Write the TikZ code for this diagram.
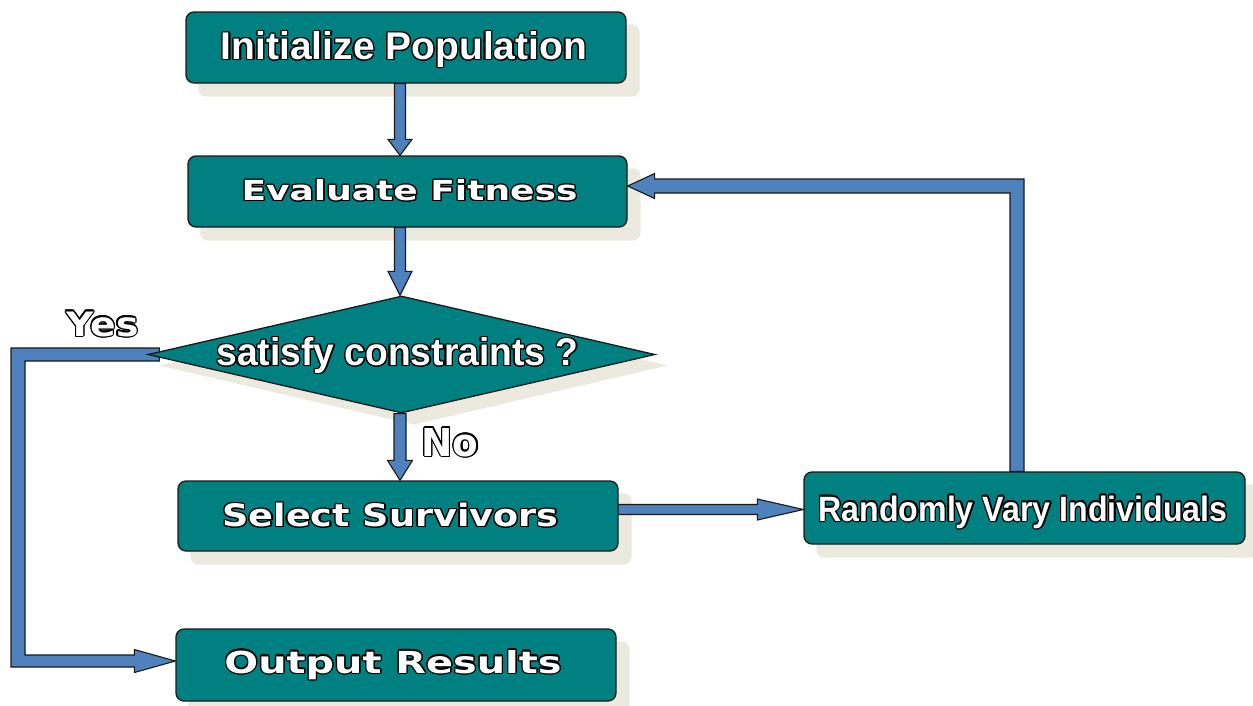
\documentclass[tikz,border=0pt]{standalone}
\usepackage{fontspec}
\setmainfont{Liberation Sans}
\newfontfamily\widefont{DejaVu Sans}
\usepackage{graphicx}
\usetikzlibrary{calc,shapes.geometric}
\definecolor{boxc}{RGB}{0,128,128}
\definecolor{arrc}{RGB}{79,129,189}
\definecolor{shadc}{RGB}{236,233,222}
\definecolor{edgec}{RGB}{25,25,25}
\newlength\olw
\setlength\olw{1.3pt}
\newcommand\olcp[2]{\rlap{\kern#1\olw\raise#2\olw\copy0}}
\newcommand\ol[1]{{\setbox0=\hbox{#1}\leavevmode{\color{black}%
 \olcp{1}{0}\olcp{-1}{0}\olcp{0}{1}\olcp{0}{-1}%
 \olcp{.707}{.707}\olcp{-.707}{.707}\olcp{.707}{-.707}\olcp{-.707}{-.707}%
 \olcp{.924}{.383}\olcp{-.924}{.383}\olcp{.924}{-.383}\olcp{-.924}{-.383}%
 \olcp{.383}{.924}\olcp{-.383}{.924}\olcp{.383}{-.924}\olcp{-.383}{-.924}}%
 \copy0}}
\newcommand\fitt[3]{\ol{\resizebox{#1pt}{#2pt}{\bfseries #3}}}
\newcommand\fitw[3]{\ol{\resizebox{#1pt}{#2pt}{\widefont\bfseries #3}}}
\newcommand\blkdown[5]{%
 \filldraw[conn] ($(#1)+(-#3,0)$) -- ($(#2)+(-#3,#5)$) -- ($(#2)+(-#4,#5)$) -- (#2)
  -- ($(#2)+(#4,#5)$) -- ($(#2)+(#3,#5)$) -- ($(#1)+(#3,0)$) -- cycle;}
\pgfdeclarelayer{background}
\pgfdeclarelayer{connlayer}
\pgfsetlayers{background,connlayer,main}
\begin{document}
\begin{tikzpicture}[x=1pt,y=1pt,
  box/.style={draw=edgec, line width=1.3pt, fill=boxc, rounded corners=8pt,
    inner sep=0pt, minimum width=440pt, minimum height=71pt},
  dia/.style={draw=edgec, line width=1.3pt, fill=boxc, diamond, inner sep=0pt,
    minimum width=507pt, minimum height=117pt},
  lbl/.style={anchor=base, inner sep=0pt, text=white},
  conn/.style={fill=arrc, draw=edgec, line width=1.1pt, line join=miter},
  shad/.style={fill=shadc, rounded corners=8pt}]
\useasboundingbox (0,0) rectangle (1253,-705);

% nodes
\node[box] (init) at (406,-47.5) {};
\node[box, minimum width=439pt] (eval) at (407.5,-191.5) {};
\node[dia] (sat) at (401.5,-354.5) {};
\node[box, minimum height=70pt] (sel) at (398,-516) {};
\node[box, minimum height=72pt] (out) at (396,-665) {};
\node[box, minimum width=441pt, minimum height=72pt] (rand) at (1024.5,-508) {};

% labels
\node[lbl] (initT) at (404,-59.5) {\fitt{366}{28}{Initialize Population}};
\node[lbl] (evalT) at (409.5,-200.5) {\fitw{336}{21}{Evaluate Fitness}};
\node[lbl] (satT) at (397.5,-365.5) {\fitt{362}{28}{satisfy constraints ?}};
\node[lbl] (selT) at (390.5,-526.5) {\fitw{336}{23.5}{Select Survivors}};
\node[lbl] (outT) at (393,-673) {\fitw{337}{23}{Output Results}};
\node[lbl] (randT) at (1023,-521) {\fitt{409}{25.5}{Randomly Vary Individuals}};
\node[lbl] (yesT) at (102.5,-336) {\fitw{72}{24.5}{Yes}};
\node[lbl] (noT) at (450,-456) {\fitw{57}{28}{No}};

% shadows
\begin{pgfonlayer}{background}
\foreach \n in {init,eval,sel,out,rand}{
  \fill[shad] ($(\n.south west)+(13,-13)$) rectangle ($(\n.north east)+(13,-13)$);
}
\fill[shadc] ($(sat.west)+(12,-11)$) -- ($(sat.north)+(12,-11)$) -- ($(sat.east)+(12,-11)$) -- ($(sat.south)+(12,-11)$) -- cycle;
\end{pgfonlayer}

% connectors
\begin{pgfonlayer}{connlayer}
\coordinate (ax) at (400,0);
\coordinate (a1s) at (init.south -| ax);
\coordinate (a1e) at (eval.north -| ax);
\coordinate (a2s) at (eval.south -| ax);
\coordinate (a2e) at (sat.north -| ax);
\coordinate (a3s) at (sat.south -| ax);
\coordinate (a3e) at (sel.north -| ax);
\blkdown{a1s}{a1e}{5.5}{12}{16}
\blkdown{a2s}{a2e}{5.5}{12}{24}
\blkdown{a3s}{a3e}{6}{12.5}{20}
% select -> randomly
\filldraw[conn] let \p1=(sel.east), \p2=(rand.west) in
  (\x1-2pt,\y2+3.5pt) -- (\x2-46pt,\y2+3.5pt) -- (\x2-46pt,\y2+9pt) -- (\x2,\y2-1.5pt)
  -- (\x2-46pt,\y2-12pt) -- (\x2-46pt,\y2-6.5pt) -- (\x1-2pt,\y2-6.5pt) -- cycle;
% yes branch
\filldraw[conn] let \p1=(sat.west), \p2=(out.west) in
  (\x1+12pt,\y1+6.5pt) -- (11pt,\y1+6.5pt) -- (11pt,\y2-2pt) -- (\x2-41pt,\y2-2pt)
  -- (\x2-41pt,\y2-7.5pt) -- (\x2,\y2+4pt) -- (\x2-41pt,\y2+15.5pt) -- (\x2-41pt,\y2+10pt)
  -- (25pt,\y2+10pt) -- (25pt,\y1-6.5pt) -- (\x1+12pt,\y1-6.5pt) -- cycle;
% feedback loop
\filldraw[conn] let \p1=(rand.north), \p2=(eval.east) in
  (\x1-14.5pt,\y1) -- (\x1-14.5pt,\y2-1.5pt) -- (\x2+27pt,\y2-1.5pt) -- (\x2+27pt,\y2-7pt)
  -- (\x2,\y2+5.5pt) -- (\x2+27pt,\y2+18pt) -- (\x2+27pt,\y2+12.5pt)
  -- (\x1-0.5pt,\y2+12.5pt) -- (\x1-0.5pt,\y1) -- cycle;
\end{pgfonlayer}
\end{tikzpicture}
\end{document}
